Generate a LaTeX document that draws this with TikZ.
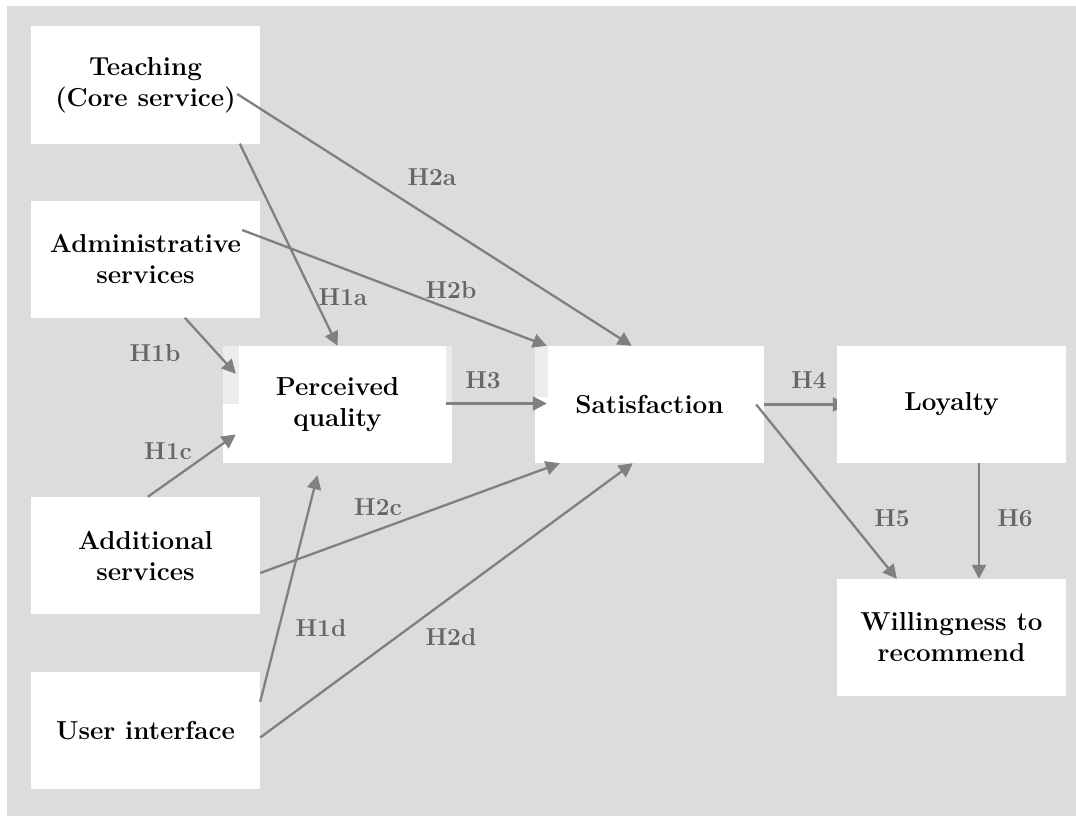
\documentclass[tikz,border=0pt]{standalone}
\usetikzlibrary{arrows.meta,calc}
\definecolor{bggray}{RGB}{220,220,220}
\definecolor{arrowgray}{RGB}{128,128,128}
\definecolor{labelgray}{RGB}{102,102,102}
\definecolor{stripgray}{RGB}{236,236,236}
\pgfdeclarelayer{bg}
\pgfdeclarelayer{under}
\pgfsetlayers{bg,under,main}
\begin{document}
\begin{tikzpicture}[x=1pt,y=-1pt,
  boxfont/.style={font=\fontsize{26}{31}\selectfont\bfseries},
  box/.style={rectangle,fill=white,minimum width=229pt,minimum height=117pt,inner sep=0pt,align=center,boxfont},
  hlabel/.style={text=labelgray,inner sep=0pt,font=\fontsize{24.5}{28}\selectfont\bfseries},
  link/.style={draw=arrowgray,line width=2.3pt,-{Triangle[length=14pt,width=14pt]}},
  strip/.style={fill=stripgray,draw=none}]
\useasboundingbox (0,0) rectangle (1076,816);
\begin{pgfonlayer}{bg}
  \fill[white] (0,0) rectangle (1076,816);
  \fill[bggray] (7,6) rectangle (1076,816);
\end{pgfonlayer}

% boxes
\node[box] (teach) at (145.5,85) {Teaching\\(Core service)};
\node[box] (admin) at (145.5,259) {Administrative\\services};
\node[box] (addl) at (145.5,555.5) {Additional\\services};
\node[box] (ui) at (145.5,730.5) {User interface};
\node[box] (pq) at (337.5,404.5) {};
\node[box] (sat) at (649.5,404.5) {};
\node[box] (loy) at (951.5,404.5) {Loyalty};
\node[box] (wtr) at (951.5,637.5) {Willingness to\\recommend};

% light strips on box corners
\fill[strip] (pq.north west) rectangle ($(pq.north west)+(16,58)$);
\fill[strip] ($(pq.north east)+(-6,0)$) rectangle ($(pq.north east)+(0,56)$);
\fill[strip] (sat.north west) rectangle ($(sat.north west)+(13,51)$);
\node[align=center,boxfont,inner sep=0pt] (pqtext) at (pq) {Perceived\\quality};
\node[align=center,boxfont,inner sep=0pt] (sattext) at (sat) {Satisfaction};

% connector end points
\coordinate (t1) at ($(teach.south west)+(209,0)$);
\coordinate (t2) at ($(teach.east)+(-23,9)$);
\coordinate (a1) at ($(admin.east)+(-18,-29)$);
\coordinate (a2) at ($(admin.south west)+(154,0)$);
\coordinate (d1) at ($(addl.north west)+(117,0)$);
\coordinate (d2) at ($(addl.east)+(0,17.5)$);
\coordinate (u1) at ($(ui.north east)+(0,30)$);
\coordinate (u2) at ($(ui.east)+(0,7)$);
\coordinate (pb) at ($(pq.north west)+(13,28)$);
\coordinate (pc) at ($(pq.west)+(13,30)$);
\coordinate (pd) at ($(pq.south)+(-20,12)$);
\coordinate (p3) at ($(pq.east)+(-6,-1)$);
\coordinate (s3) at ($(sat.west)+(12,-1)$);
\coordinate (sa) at ($(sat.north west)+(97,0)$);
\coordinate (sb) at ($(sat.north west)+(12,0)$);
\coordinate (sc) at ($(sat.south west)+(25,0)$);
\coordinate (sd) at ($(sat.south west)+(98,0)$);
\coordinate (s5) at ($(sat.east)+(-8,0)$);
\coordinate (l4) at ($(loy.west)+(10,0)$);
\coordinate (l6) at ($(loy.south)+(27.5,0)$);
\coordinate (w5) at ($(wtr.north west)+(60,0)$);
\coordinate (w6) at ($(wtr.north)+(27.5,0)$);

% H4 runs under the Loyalty box
\begin{pgfonlayer}{under}
  \draw[link] (sat.east) -- (l4);
\end{pgfonlayer}

% connectors
\draw[link] (t1) -- (pq.north);
\draw[link] (t2) -- (sa);
\draw[link] (a1) -- (sb);
\draw[link] (a2) -- (pb);
\draw[link] (d1) -- (pc);
\draw[link] (p3) -- (s3);
\draw[link] (d2) -- (sc);
\draw[link] (u1) -- (pd);
\draw[link] (u2) -- (sd);
\draw[link] (s5) -- (w5);
\draw[link] (l6) -- (w6);

% labels
\node[hlabel] (lh2a) at (432,177) {H2a};
\node[hlabel] (lh1a) at (343,297) {H1a};
\node[hlabel] (lh2b) at (451,290) {H2b};
\node[hlabel] (lh1b) at (155,353) {H1b};
\node[hlabel] (lh1c) at (168,451) {H1c};
\node[hlabel] (lh3) at (483,380) {H3};
\node[hlabel] (lh4) at (809,380) {H4};
\node[hlabel] (lh2c) at (378,507) {H2c};
\node[hlabel] (lh1d) at (321,628) {H1d};
\node[hlabel] (lh2d) at (451,637) {H2d};
\node[hlabel] (lh5) at (892,518) {H5};
\node[hlabel] (lh6) at (1015,518) {H6};
\end{tikzpicture}
\end{document}
